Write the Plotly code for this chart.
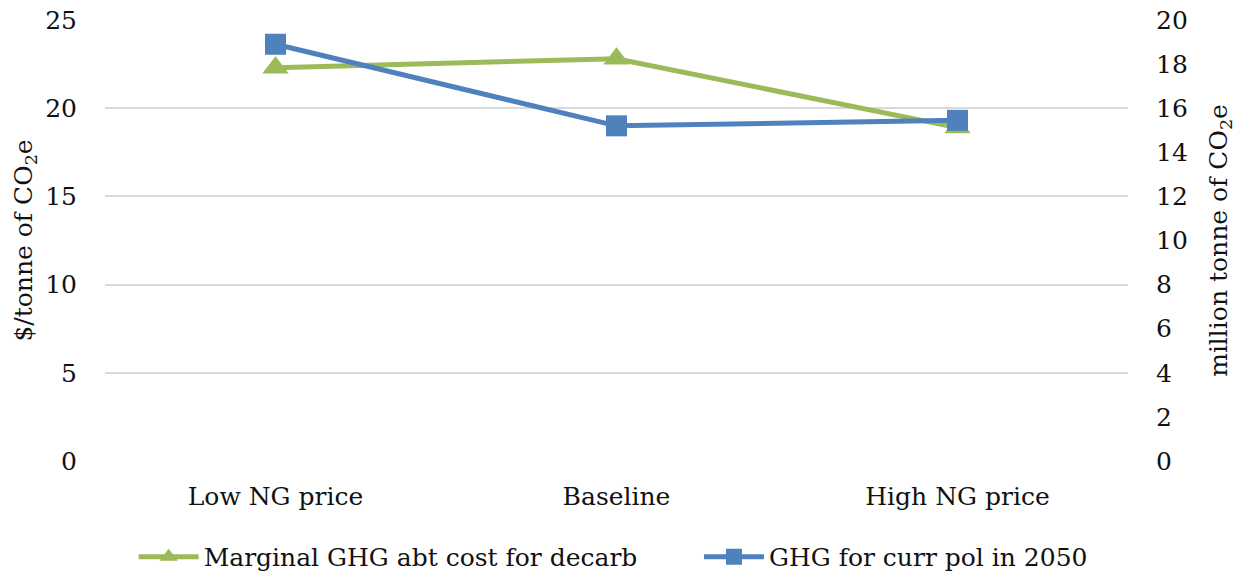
import plotly.graph_objects as go

scenarios = ["Low NG price", "Baseline", "High NG price"]
abatement_cost = [22.3, 22.8, 18.9]      # $/tonne of CO2e (left axis)
ghg_current_policy = [18.9, 15.2, 15.45]  # million tonne of CO2e (right axis)

left_ticks = [0, 5, 10, 15, 20, 25]
right_ticks = [0, 2, 4, 6, 8, 10, 12, 14, 16, 18, 20]

GREEN = "#9BBB59"
BLUE = "#4F81BD"
FONT = "DejaVu Serif"


def serif(size):
    return dict(family=FONT, size=size, color="#111111")


def legend_box(x):
    return dict(orientation="h", x=x, xanchor="left",
                yref="container", y=0.033, yanchor="middle",
                font=serif(25), itemwidth=60, bgcolor="rgba(0,0,0,0)")


fig = go.Figure()
fig.add_trace(go.Scatter(
    x=scenarios, y=abatement_cost, name="Marginal GHG abt cost for decarb",
    mode="lines+markers", line=dict(color=GREEN, width=5),
    marker=dict(symbol="triangle-up", size=23, color=GREEN), yaxis="y",
    legend="legend",
))
fig.add_trace(go.Scatter(
    x=scenarios, y=ghg_current_policy, name="GHG for curr pol in 2050",
    mode="lines+markers", line=dict(color=BLUE, width=5),
    marker=dict(symbol="square", size=21, color=BLUE), yaxis="y2",
    legend="legend2",
))

fig.update_layout(
    width=1236, height=576,
    margin=dict(l=105, r=108, t=20, b=115, autoexpand=False),
    paper_bgcolor="white", plot_bgcolor="white",
    font=serif(25),
    showlegend=True,
    legend=legend_box(0.028),
    legend2=legend_box(0.5806),
    xaxis=dict(type="category", range=[-0.5, 2.5], showgrid=False, showline=False,
               zeroline=False, ticks="", tickfont=serif(25),
               ticklabelstandoff=18),
    yaxis=dict(range=[0, 25], tickvals=left_ticks, showgrid=True, gridcolor="#D9D9D9",
               gridwidth=2, zeroline=False, showline=False, ticks="",
               ticklabelstandoff=27, tickfont=serif(25),
               title=dict(text="$/tonne of CO<sub>2</sub>e", font=serif(25), standoff=5)),
    yaxis2=dict(range=[0, 20], tickvals=right_ticks, overlaying="y", side="right",
                showgrid=False, zeroline=False, showline=False, ticks="",
                ticklabelstandoff=27, tickfont=serif(25),
                title=dict(text="million tonne of CO<sub>2</sub>e", font=serif(25), standoff=26)),
)

fig.write_html("out.html")
